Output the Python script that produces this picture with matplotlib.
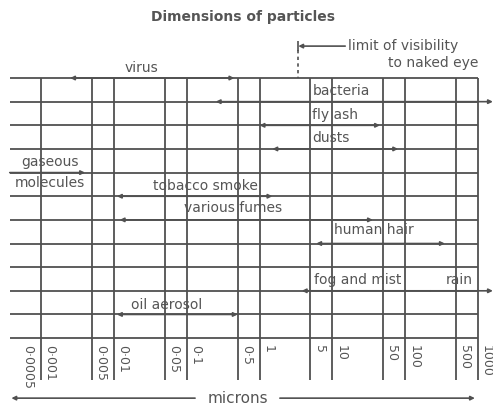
import numpy as np
from matplotlib import pyplot as plt

# size scale (microns) - value at each vertical rule, and the printed labels
TICK_VALUES = [0.0005, 0.001, 0.005, 0.01, 0.05, 0.1, 0.5, 1, 5, 10, 50, 100, 500, 1000]
TICK_LABELS = ['0·0005', '0·001', '0·005', '0·01', '0·05', '0·1', '0·5',
               '1', '5', '10', '50', '100', '500', '1000']

# particle size ranges: grid row the arrow sits on, low / high end in microns
PARTICLES = ['virus', 'bacteria', 'fly ash', 'dusts', 'gaseous\nmolecules',
             'tobacco smoke', 'various fumes', 'human hair', 'fog and mist', 'rain',
             'oil aerosol']
ROWS = [0, 1, 2, 3, 4, 5, 6, 7, 9, 9, 10]
LOW = [0.0025, 0.25, 1.0, 1.5, 0.00037, 0.011, 0.012, 6.0, 3.8, 220, 0.011]
HIGH = [0.45, 1600, 45, 80, 0.004, 1.5, 36, 350, 220, 1600, 0.5]

VISIBILITY_LIMIT = 3.4  # microns
N_ROWS = 12

LINE = '#505050'
TEXT = '#555555'


def span(ax, x0, x1, row, style='<|-|>'):
    ax.annotate('', xy=(x1, row), xytext=(x0, row),
                arrowprops=dict(arrowstyle=style, color=LINE, lw=1.2,
                                mutation_scale=6, shrinkA=0, shrinkB=0))


fig = plt.figure(figsize=(4.93, 4.05), dpi=100)
ax = fig.add_axes([0, 0, 1, 1])
ax.set_xscale('log')
ax.set_xlim(0.000272, 1607)
ax.set_ylim(13.83, -3.30)
ax.axis('off')

# grid
ax.hlines(range(N_ROWS), 0.00037, 1000, color=LINE, lw=1.3)
ax.vlines(TICK_VALUES[1:], 0, 12.78, color=LINE, lw=1.3)

# scale labels, reading downwards
for v, lab in zip(TICK_VALUES, TICK_LABELS):
    ax.annotate(lab, (v, 11.3), xytext=(1.5, 0), textcoords='offset points',
                rotation=270, ha='left', va='top', fontsize=9, color=TEXT)

# range arrows
styles = {'gaseous\nmolecules': '-|>', 'fog and mist': '<|-', 'rain': '-|>'}
for name, r, lo, hi in zip(PARTICLES, ROWS, LOW, HIGH):
    span(ax, lo, hi, r, styles.get(name, '<|-|>'))

# names, placed in the cell above their arrow
label_pos = {
    'virus': (0.0235, -0.42, 'center'),
    'bacteria': (5.4, 0.55, 'left'),
    'fly ash': (5.2, 1.57, 'left'),
    'dusts': (5.3, 2.54, 'left'),
    'gaseous\nmolecules': (0.00132, 4.0, 'center'),
    'tobacco smoke': (0.178, 4.55, 'center'),
    'various fumes': (0.43, 5.5, 'center'),
    'human hair': (37, 6.43, 'center'),
    'fog and mist': (5.6, 8.54, 'left'),
    'rain': (860, 8.54, 'right'),
    'oil aerosol': (0.053, 9.6, 'center'),
}
for name in PARTICLES:
    x, y, ha = label_pos[name]
    ax.text(x, y, name, ha=ha, va='center', fontsize=10, color=TEXT,
            linespacing=1.6)

# limit of visibility to the naked eye
ax.vlines(VISIBILITY_LIMIT, -1.2, 0, color=LINE, lw=1.2, linestyles=(0, (2, 2)))
ax.vlines(VISIBILITY_LIMIT, -1.55, -1.15, color=LINE, lw=1.2)
span(ax, 15, VISIBILITY_LIMIT, -1.35, '-|>')
ax.text(16.4, -1.35, 'limit of visibility', ha='left', va='center',
        fontsize=10, color=TEXT)
ax.text(1000, -0.63, 'to naked eye', ha='right', va='center',
        fontsize=10, color=TEXT)

# axis name along the bottom
span(ax, 0.13, 0.00039, 13.54, '-|>')
span(ax, 1.9, 906, 13.54, '-|>')
ax.text(0.5, 13.54, 'microns', ha='center', va='center', fontsize=11,
        color=TEXT)

ax.text(0.59, -2.58, 'Dimensions of particles', ha='center',
        va='center', fontsize=10, fontweight='bold', color=TEXT)

fig.savefig('out.png', dpi=100)
